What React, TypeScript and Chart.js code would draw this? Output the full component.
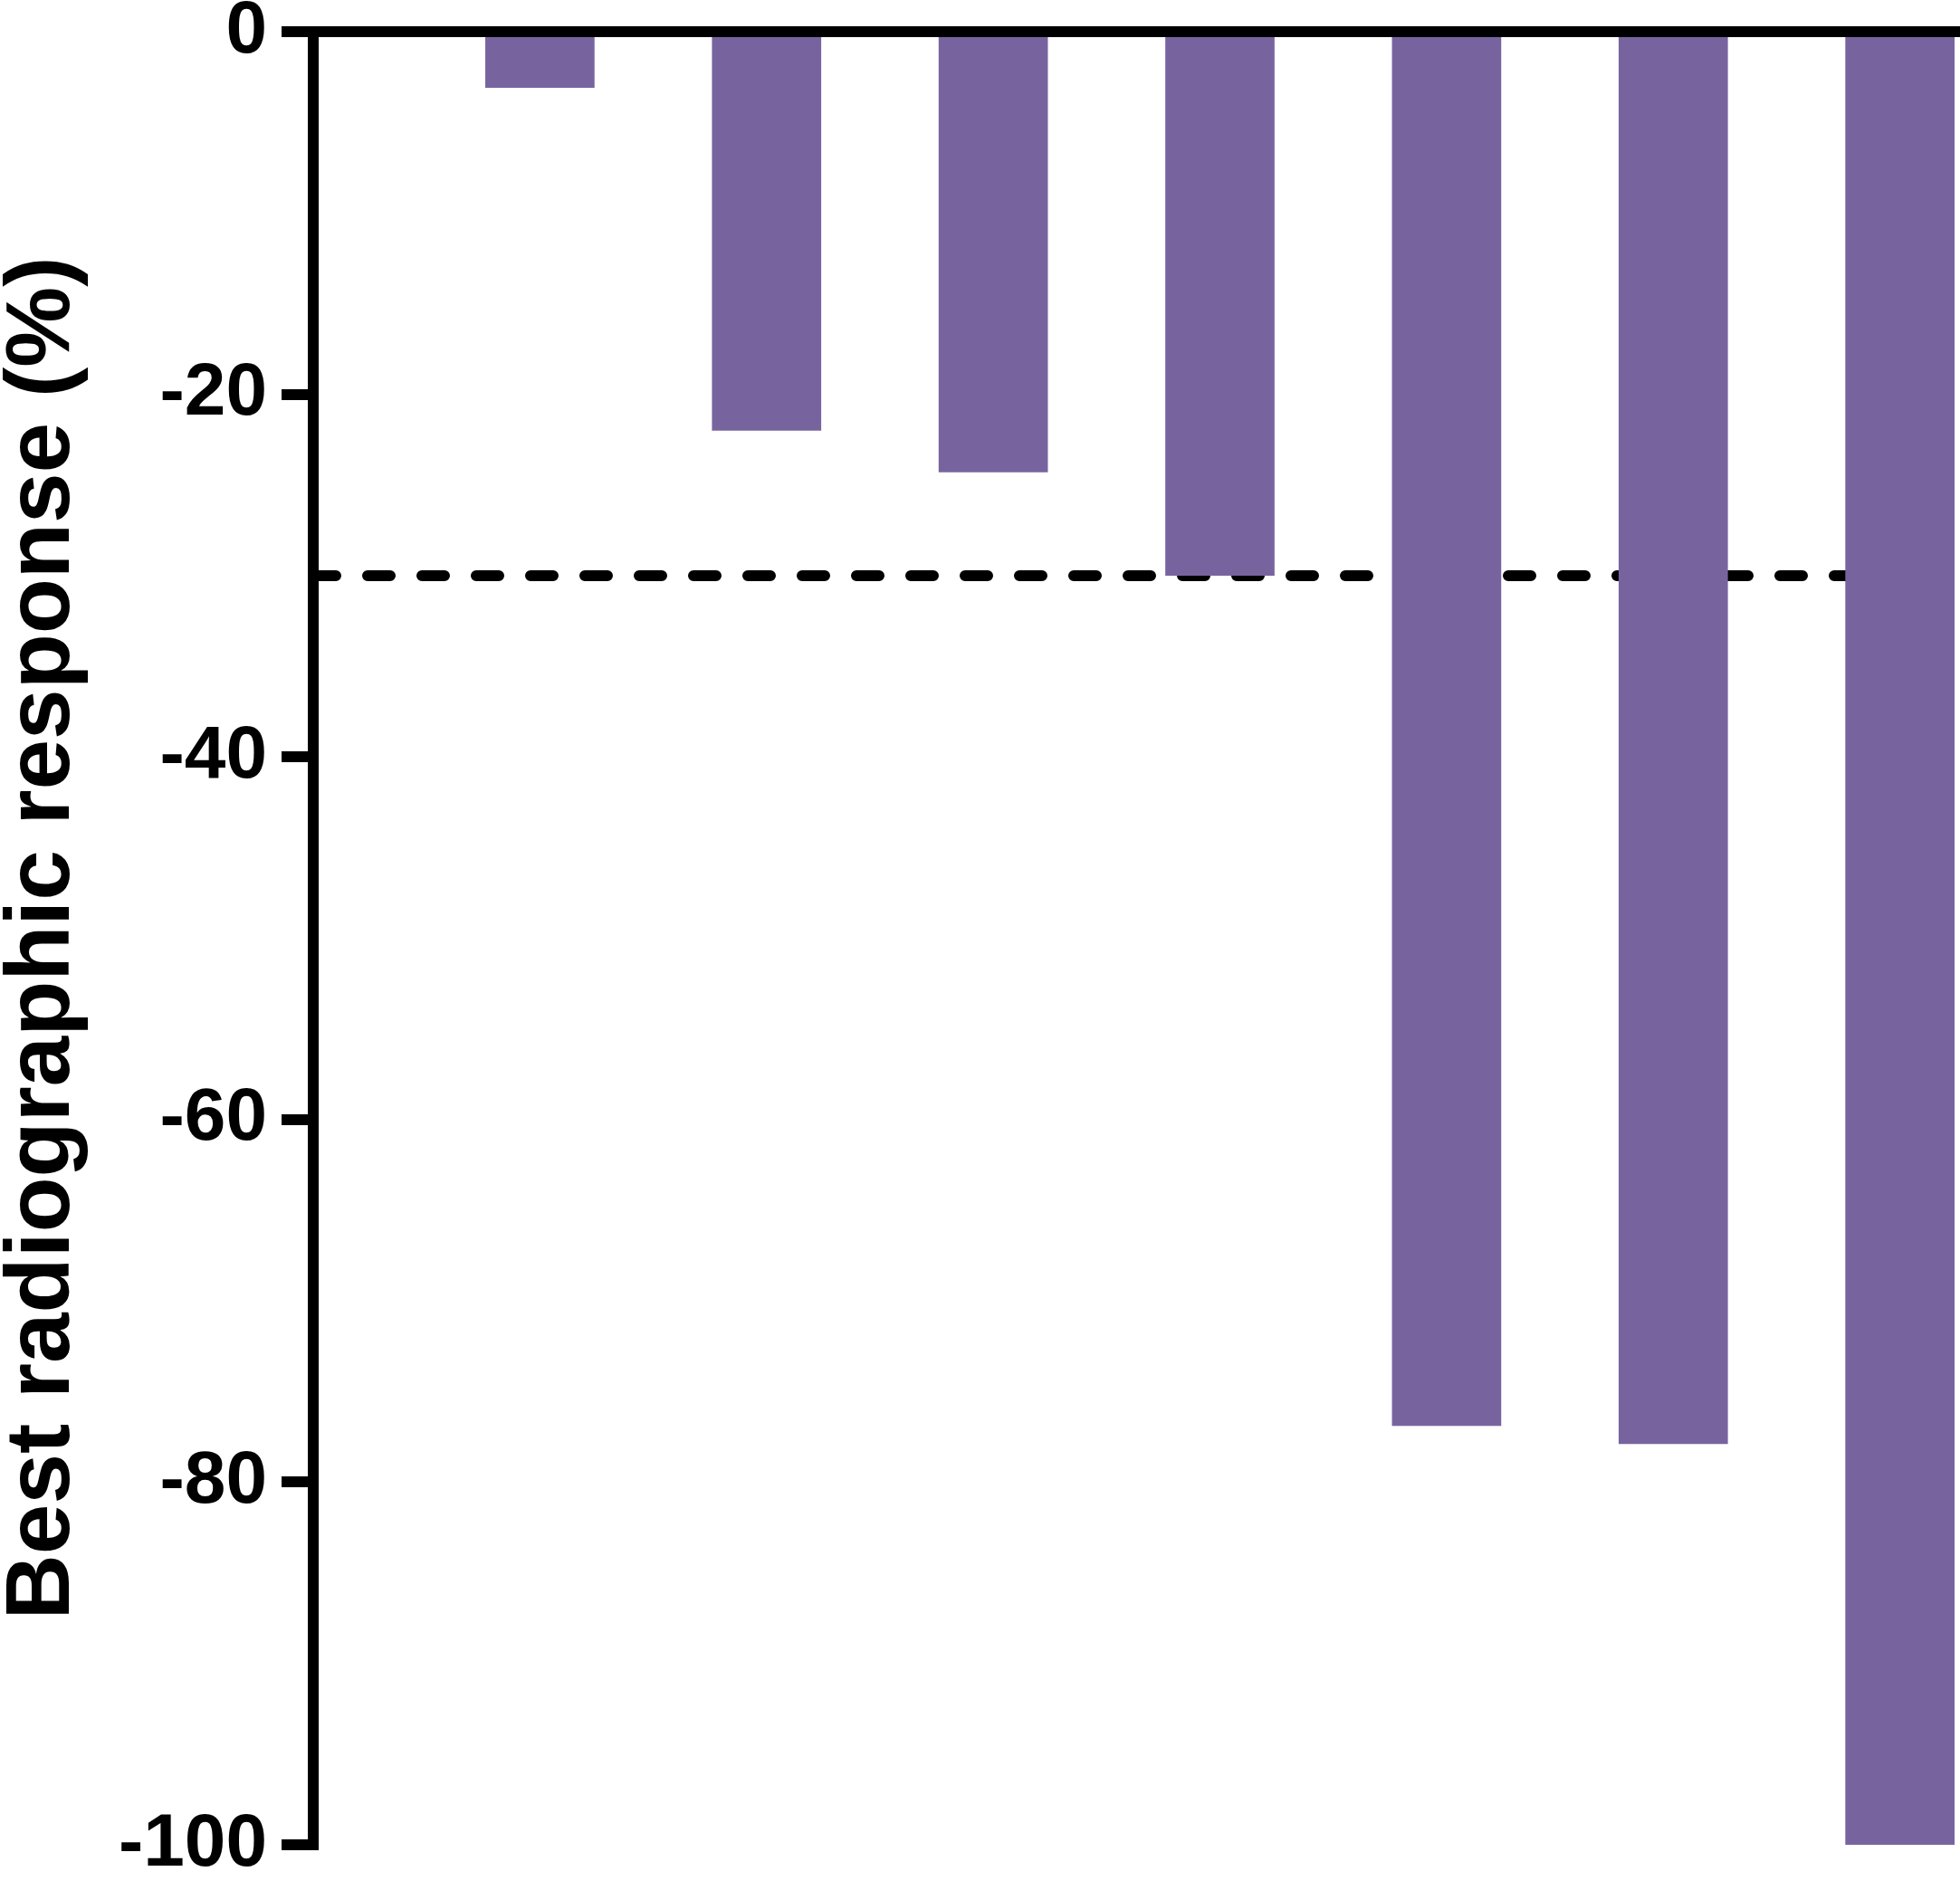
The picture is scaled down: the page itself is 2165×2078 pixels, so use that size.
import { useEffect, useRef } from 'react';
import { Chart, registerables } from 'chart.js';

Chart.register(...registerables);

// patient index along x (0 is where the y axis sits)
const patients = [1, 2, 3, 4, 5, 6, 7];
// best radiographic response per patient, in %
const bestResponse = [-3.1, -22.0, -24.3, -30.0, -76.9, -77.9, -100];
// partial response cut-off (dashed line)
const responseThreshold = -30;
const yTickValues = [0, -20, -40, -60, -80, -100];

const FONT = 'Arial, "Liberation Sans", Helvetica, sans-serif';
const BAR_COLOR = '#77649f';

export default function App() {
  const canvasRef = useRef<HTMLCanvasElement>(null);

  useEffect(() => {
    document.body.style.margin = '0';
    document.body.style.overflow = 'hidden';
    if (!canvasRef.current) return;

    const xMax = 7.265;
    const lastPatient = patients[patients.length - 1];
    const chart = new Chart(canvasRef.current, {
      type: 'bar',
      data: {
        datasets: [
          {
            type: 'bar',
            label: 'Best radiographic response',
            data: patients.map((p, i) => ({ x: p, y: bestResponse[i] })),
            backgroundColor: BAR_COLOR,
            borderWidth: 0,
            barPercentage: 0.482,
            categoryPercentage: 1,
            order: 1
          },
          {
            type: 'line',
            label: 'Threshold',
            data: [
              { x: 0, y: responseThreshold },
              { x: lastPatient, y: responseThreshold }
            ],
            borderColor: '#000',
            borderWidth: 12,
            borderDash: [25, 35],
            borderCapStyle: 'round',
            pointRadius: 0,
            fill: false,
            order: 2
          }
        ]
      } as any,
      options: {
        animation: false,
        responsive: false,
        devicePixelRatio: 1,
        layout: { padding: { top: 35, bottom: 40, left: 0, right: 0 } },
        plugins: {
          legend: { display: false },
          tooltip: { enabled: false }
        },
        scales: {
          x: {
            type: 'linear',
            position: 'top',
            offset: false,
            min: 0,
            max: xMax,
            afterBuildTicks: (axis: any) => {
              axis.ticks = patients.map((v) => ({ value: v }));
            },
            ticks: { display: false },
            grid: { display: false, drawTicks: false, offset: false },
            border: { display: true, color: '#000', width: 12 }
          },
          y: {
            type: 'linear',
            min: Math.min(...yTickValues),
            max: Math.max(...yTickValues),
            afterBuildTicks: (axis: any) => {
              axis.ticks = yTickValues.map((v) => ({ value: v }));
            },
            afterFit: (axis: any) => {
              axis.width = 346;
            },
            ticks: {
              color: '#000',
              padding: 16,
              font: { family: FONT, size: 82, weight: 'bold', lineHeight: 0.45 }
            },
            grid: {
              drawOnChartArea: false,
              drawTicks: true,
              tickLength: 35,
              tickWidth: 12,
              tickColor: '#000',
              lineWidth: 12,
              color: '#000'
            },
            border: { display: true, color: '#000', width: 12 },
            title: {
              display: true,
              text: 'Best radiographic response (%)',
              color: '#000',
              padding: { top: 0, bottom: 0 },
              font: { family: FONT, size: 100, weight: 'bold', lineHeight: 0.96 }
            }
          }
        }
      }
    });

    return () => chart.destroy();
  }, []);

  return (
    <div style={{ width: 2165, height: 2078, background: '#fff' }}>
      <canvas ref={canvasRef} width={2165} height={2078} style={{ display: 'block' }} />
    </div>
  );
}
